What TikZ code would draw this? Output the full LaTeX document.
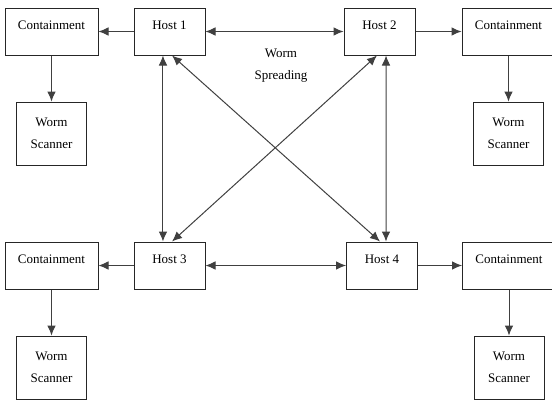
\documentclass[tikz,border=0pt]{standalone}
\usepackage{fontspec}
\setmainfont{Liberation Serif}
\usepackage{tikz}
\usetikzlibrary{arrows.meta,positioning}

\begin{document}
\begin{tikzpicture}[x=0.75pt, y=-0.75pt, node distance=34.5pt, >={Latex[length=7.5pt,width=6.5pt]},
  every node/.style={font=\fontsize{9.75}{16.5}\selectfont},
  box/.style={draw=black!85, line width=0.75pt, text height=12.75pt, text depth=16.5pt, inner ysep=3pt},
  hostbox/.style={box, minimum width=53.25pt},
  contbox/.style={box, minimum width=69.75pt},
  scanbox/.style={draw=black!85, line width=0.75pt, align=center, minimum width=52.5pt, minimum height=47.25pt},
  link/.style={draw=black!75, line width=0.75pt}]

\useasboundingbox (0,0) rectangle (552,401);

%start from the four hosts
\node[hostbox] (host1) at (169.5,31.5) {Host 1};
\node[hostbox] (host2) at (379.5,31.5) {Host 2};
\node[hostbox] (host3) at (169.5,265.5) {Host 3};
\node[hostbox] (host4) at (382,265.5) {Host 4};

%containment beside each host
\node[contbox, left=26.25pt of host1] (contA) {Containment};
\node[contbox, right=34.5pt of host2] (contB) {Containment};
\node[contbox, left=26.25pt of host3] (contC) {Containment};
\node[contbox, right=33pt of host4] (contD) {Containment};

%scanners below containment
\node[scanbox, below=of contA] (scanA) {Worm\\Scanner};
\node[scanbox, below=of contB] (scanB) {Worm\\Scanner};
\node[scanbox, below=of contC] (scanC) {Worm\\Scanner};
\node[scanbox, below=of contD] (scanD) {Worm\\Scanner};

%label spreading
\node[align=center] (spread) at (281,66) {Worm\\Spreading};

%host to containment to scanner
\draw[link,->] (host1) -- (contA);
\draw[link,->] (host2) -- (contB);
\draw[link,->] (host3) -- (contC);
\draw[link,->] (host4) -- (contD);
\draw[link,->] (contA) -- (scanA);
\draw[link,->] (contB) -- (scanB);
\draw[link,->] (contC) -- (scanC);
\draw[link,->] (contD) -- (scanD);

%spreading between hosts
\draw[link,<->] (host1) -- (host2);
\draw[link,<->] (host3) -- (host4);
\draw[link,<->] ([xshift=-4.9pt]host1.south) -- ([xshift=-4.9pt]host3.north);
\draw[link,<->] ([xshift=4.9pt]host2.south) -- ([xshift=3pt]host4.north);
\draw[link,<->] ([xshift=1.9pt]host1.south) -- ([xshift=-1.5pt]host4.north);
\draw[link,<->] ([xshift=-1.9pt]host2.south) -- ([xshift=1.9pt]host3.north);

\end{tikzpicture}
\end{document}
